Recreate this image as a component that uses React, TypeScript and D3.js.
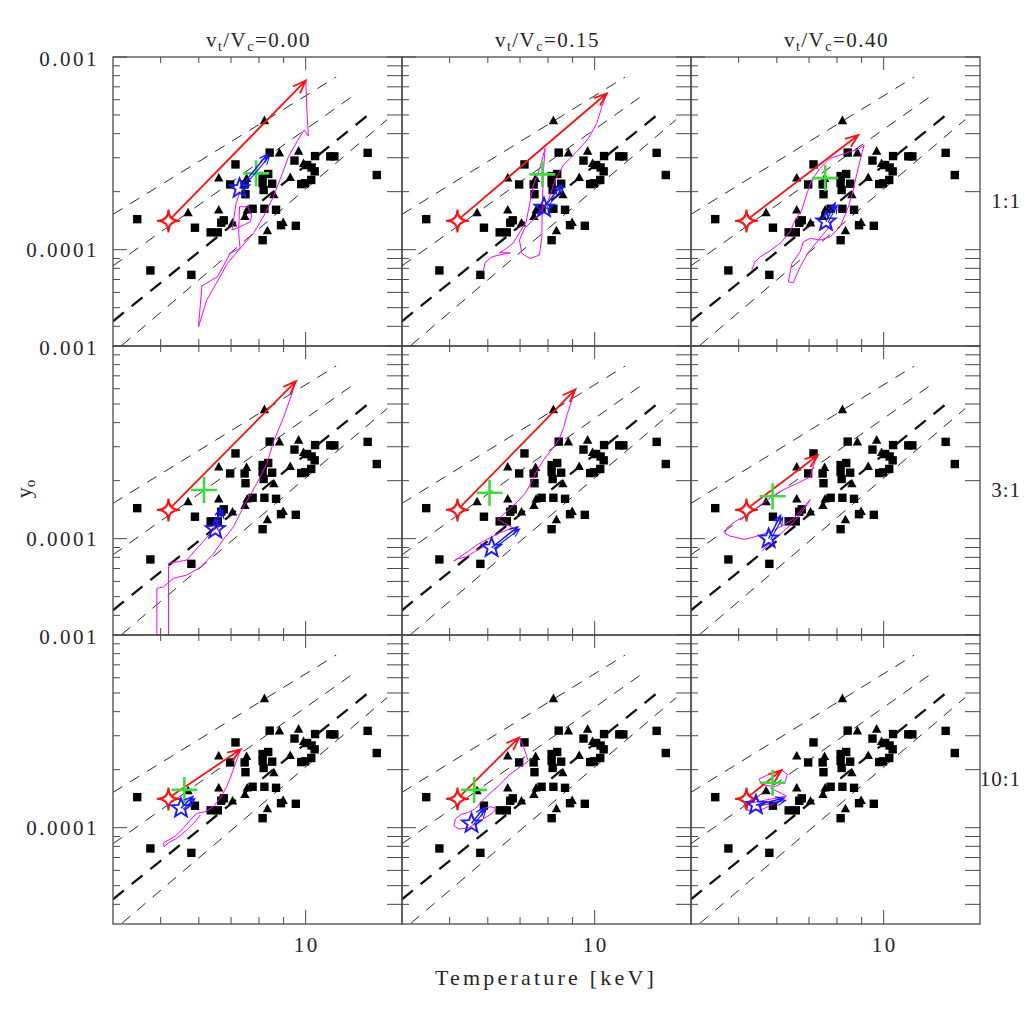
import React from "react";
import * as d3 from "d3";

const FONT = "'Liberation Serif', 'Times New Roman', serif";
const INK = "#262626";
const AXIS = "#4a4a4a";

// ---- axes ----
const T_DOMAIN: [number, number] = [3.981, 15.85];
const Y_DOMAIN: [number, number] = [3.162e-5, 1.0e-3];
const columnRatios = ["0.00", "0.15", "0.40"];
const rowMassRatios = ["1:1", "3:1", "10:1"];
const xMinorTicks = [4, 5, 6, 7, 8, 9];
const xMajorTicks = [10];
const xTickLabels = ["10"];
const yMinorTicks = [4e-5, 5e-5, 6e-5, 7e-5, 8e-5, 9e-5, 2e-4, 3e-4, 4e-4, 5e-4, 6e-4, 7e-4, 8e-4, 9e-4];
const yMajorTicks = [1e-4, 1e-3];
const yTickLabels = ["0.0001", "0.001"];

// ---- observed clusters (T keV, y in units of 1e-4) ----
const squareT = [4.47, 4.76, 5.79, 5.89, 6.35, 6.57, 6.68, 6.76, 6.97, 7.15, 7.47, 7.5, 7.76, 8.14, 8.36, 8.14, 8.52, 8.18, 8.21, 8.68, 8.14, 8.89, 9.54, 8.42, 9.48, 10.46, 11.25, 11.47, 13.45, 14.05, 10.07, 10.29, 10.44, 10.27, 9.97, 9.79];
const squareY = [1.44, 0.78, 0.74, 1.3, 1.23, 1.23, 1.38, 1.42, 2.18, 2.77, 2.18, 1.94, 1.63, 2.41, 2.47, 2.22, 2.2, 2.04, 1.63, 1.61, 1.12, 1.34, 1.33, 3.19, 2.9, 3.06, 3.05, 3.05, 3.18, 2.44, 2.75, 2.67, 2.55, 2.3, 2.21, 2.19];
const triangleT = [5.7, 6.6, 6.6, 7.05, 7.48, 7.56, 7.54, 8.21, 8.82, 9.67, 9.29, 8.59, 8.33, 8.98, 9.9];
const triangleY = [1.556, 2.355, 1.606, 1.375, 1.486, 1.606, 2.341, 4.68, 3.18, 3.25, 2.37, 1.93, 1.254, 1.384, 2.8];

// ---- scaling relations (dashed) ----
const relationT = [[3.981, 11.57], [3.981, 12.47], [3.981, 13.45], [4.156, 14.77]];
const relationY = [[1.525, 7.873], [0.825, 6.221], [0.425, 4.981], [0.319, 4.736]];
const relationThick = [false, false, true, false];

// ---- simulation overlays (per panel, row-major) ----
const initialState: [number, number] = [5.19, 1.41];
const redTip: [number, number][] = [[10.0, 7.55], [10.6, 6.48], [8.86, 3.94], [9.55, 6.58], [9.12, 5.96], [7.3, 2.71], [7.33, 2.55], [6.97, 2.94], [6.14, 1.99]];
const greenCross: [number, number][] = [[7.89, 2.49], [7.79, 2.46], [7.56, 2.35], [6.15, 1.79], [6.05, 1.73], [5.88, 1.66], [5.6, 1.57], [5.62, 1.57], [5.88, 1.71]];
const blueStar: [number, number][] = [[7.29, 2.08], [7.85, 1.65], [7.59, 1.4], [6.49, 1.12], [6.11, 0.897], [5.77, 1.0], [5.51, 1.26], [5.55, 1.05], [5.43, 1.31]];
const blueTip: [number, number][] = [[8.33, 3.13], [8.52, 2.16], [7.93, 1.74], [6.66, 1.44], [6.92, 1.15], [6.11, 1.32], [5.83, 1.45], [5.89, 1.27], [6.2, 1.42]];

const track1: [number, number][] = [[7.31, 2.0], [7.17, 1.739], [7.1, 1.481], [7.03, 1.264], [7.31, 1.315], [7.67, 1.395], [7.73, 1.512], [7.57, 1.67], [7.29, 1.67], [7.26, 1.215], [7.31, 1.015], [6.97, 0.956], [6.56, 0.723], [6.09, 0.649], [5.99, 0.397], [6.23, 0.547], [6.64, 0.723], [6.88, 0.849], [7.31, 1.015], [7.79, 1.215], [8.24, 1.543], [8.57, 1.882], [8.92, 2.44], [9.21, 3.036], [9.59, 3.632], [9.93, 4.178], [10.13, 3.888], [10.06, 5.306], [10.01, 7.532]];
const track2: [number, number][] = [[5.87, 0.768], [5.92, 0.855], [6.12, 0.918], [6.42, 0.945], [6.68, 0.963], [6.34, 0.963], [6.52, 1.003], [6.78, 1.085], [7.0, 1.238], [7.21, 1.395], [7.32, 1.704], [7.46, 2.164], [7.71, 2.694], [7.89, 3.357], [7.83, 2.59], [7.78, 1.605], [7.77, 1.166], [7.68, 0.937], [7.34, 0.901], [7.06, 0.956], [6.98, 1.121], [7.15, 1.29], [7.58, 1.481], [8.02, 1.809], [8.28, 2.298], [8.61, 2.749], [9.18, 3.222], [9.71, 3.783], [10.1, 4.526], [10.35, 5.52], [10.6, 6.479]];
const track3: [number, number][] = [[5.32, 0.783], [5.41, 0.865], [5.54, 0.918], [5.81, 0.986], [6.14, 1.098], [6.39, 1.238], [6.55, 1.424], [6.76, 1.605], [6.95, 1.997], [7.09, 2.298], [7.38, 2.643], [7.74, 2.978], [8.39, 3.185], [8.86, 3.316], [9.11, 3.492], [9.01, 3.162], [8.8, 2.49], [8.63, 1.997], [8.45, 1.67], [8.12, 1.315], [7.74, 1.166], [7.38, 1.121], [7.04, 1.144], [6.81, 1.098], [6.71, 0.975], [6.45, 0.849], [6.34, 0.681], [6.49, 0.673], [6.71, 0.815], [6.95, 0.956], [7.32, 1.121], [7.62, 1.264], [7.86, 1.424]];
const track4: [number, number][] = [[6.59, 1.249], [6.43, 1.108], [6.12, 0.963], [5.66, 0.774], [5.19, 0.744], [5.19, 0.264], [4.91, 0.264], [4.91, 0.552], [5.07, 0.562], [5.31, 0.622], [5.66, 0.647], [6.04, 0.709], [6.43, 0.832], [6.73, 0.983], [7.08, 1.152], [7.43, 1.464], [7.92, 1.937], [8.31, 2.461], [8.6, 3.25], [9.0, 4.263], [9.29, 5.35], [9.55, 6.581]];
const track5: [number, number][] = [[9.12, 5.959], [8.93, 5.076], [8.77, 4.419], [8.62, 3.765], [8.43, 3.277], [8.2, 2.964], [7.85, 2.58], [7.58, 2.244], [7.38, 1.95], [7.19, 1.731], [6.88, 1.535], [6.58, 1.39], [6.3, 1.259], [6.76, 1.139], [6.35, 1.072], [5.97, 0.991], [5.72, 0.934], [5.47, 0.862], [5.28, 0.812], [5.1, 0.765], [5.19, 0.786], [5.42, 0.805], [5.66, 0.862], [5.92, 0.915]];
const track6: [number, number][] = [[7.26, 2.63], [7.1, 2.29], [7.05, 2.095], [6.65, 1.95], [6.25, 1.816], [5.88, 1.664], [5.53, 1.488], [5.24, 1.337], [4.93, 1.234], [4.73, 1.139], [4.68, 1.065], [4.8, 1.031], [5.15, 0.991], [5.53, 1.04], [5.93, 1.108], [6.48, 1.259], [7.05, 1.6], [6.83, 1.419], [6.48, 1.209], [6.14, 1.072], [5.83, 0.952], [5.58, 0.862]];
const track7: [number, number][] = [[7.31, 2.508], [7.17, 2.198], [7.03, 1.914], [6.86, 1.631], [6.64, 1.419], [6.43, 1.284], [6.18, 1.209], [5.94, 1.186], [5.76, 1.098], [5.57, 0.991], [5.36, 0.904], [5.19, 0.862], [5.07, 0.835], [5.08, 0.796], [5.19, 0.835], [5.4, 0.88], [5.66, 0.971], [5.89, 1.072], [6.04, 1.162]];
const track8: [number, number][] = [[6.97, 2.943], [7.1, 2.684], [7.28, 2.217], [6.94, 2.031], [6.64, 1.875], [6.32, 1.65], [6.06, 1.506], [5.82, 1.363], [5.66, 1.259], [5.47, 1.2], [5.28, 1.172], [5.14, 1.108], [5.1, 1.022], [5.23, 0.983], [5.47, 0.998], [5.72, 1.072], [5.92, 1.125], [6.13, 1.186], [6.24, 1.259], [6.08, 1.284], [5.82, 1.249]];
const track9: [number, number][] = [[6.14, 1.99], [6.31, 1.891], [6.25, 1.731], [5.93, 1.631], [5.58, 1.678], [5.51, 1.787], [5.78, 1.891], [6.09, 1.967], [5.83, 1.6], [6.14, 1.506], [6.28, 1.459], [5.83, 1.407], [5.38, 1.353], [5.11, 1.299], [5.22, 1.229], [5.58, 1.238], [5.93, 1.337], [6.25, 1.441]];
const tracks = [track1, track2, track3, track4, track5, track6, track7, track8, track9];

const Y_UNIT = 1e-4;
const P = 289;
const ORIGIN_X = 113;
const ORIGIN_Y = 57;

function arrowPath(sx: number, sy: number, ex: number, ey: number, len: number, ang: number) {
  const th = Math.atan2(ey - sy, ex - sx);
  const h1x = ex - len * Math.cos(th - ang), h1y = ey - len * Math.sin(th - ang);
  const h2x = ex - len * Math.cos(th + ang), h2y = ey - len * Math.sin(th + ang);
  return `M${sx},${sy}L${ex},${ey}M${h1x},${h1y}L${ex},${ey}L${h2x},${h2y}`;
}

function starPath(cx: number, cy: number, n: number, R: number, r: number) {
  const pts: string[] = [];
  for (let k = 0; k < 2 * n; k++) {
    const a = -Math.PI / 2 + (k * Math.PI) / n;
    const rad = k % 2 === 0 ? R : r;
    pts.push(`${cx + rad * Math.cos(a)},${cy + rad * Math.sin(a)}`);
  }
  return "M" + pts.join("L") + "Z";
}

// concave 4-point star (curved sides)
function sparklePath(cx: number, cy: number, R: number, c: number) {
  return (
    `M${cx},${cy - R}` +
    `Q${cx + c},${cy - c} ${cx + R},${cy}` +
    `Q${cx + c},${cy + c} ${cx},${cy + R}` +
    `Q${cx - c},${cy + c} ${cx - R},${cy}` +
    `Q${cx - c},${cy - c} ${cx},${cy - R}Z`
  );
}

function Panel({ row, col }: { row: number; col: number }) {
  const i = row * 3 + col;
  const x0 = ORIGIN_X + col * P;
  const y0 = ORIGIN_Y + row * P;
  const x = d3.scaleLog().domain(T_DOMAIN).range([x0, x0 + P]);
  const y = d3.scaleLog().domain(Y_DOMAIN).range([y0 + P, y0]);
  const line = d3
    .line<[number, number]>()
    .x((d) => x(d[0]))
    .y((d) => y(d[1] * Y_UNIT));
  const clipId = `clip-${i}`;

  const ticks: JSX.Element[] = [];
  const addX = (t: number, lenB: number, lenT: number, key: string) => {
    const xx = x(t);
    if (xx < x0 + 1.5 || xx > x0 + P - 0.5) return;
    ticks.push(<line key={key + "b"} x1={xx} x2={xx} y1={y0 + P} y2={y0 + P - lenB} />);
    ticks.push(<line key={key + "t"} x1={xx} x2={xx} y1={y0} y2={y0 + lenT} />);
  };
  xMinorTicks.forEach((t) => addX(t, 7, 6, "xm" + t));
  xMajorTicks.forEach((t) => addX(t, 14, 13, "xM" + t));
  const addY = (v: number, lenL: number, lenR: number, key: string) => {
    const yy = y(v);
    ticks.push(<line key={key + "l"} x1={x0} x2={x0 + lenL} y1={yy} y2={yy} />);
    ticks.push(<line key={key + "r"} x1={x0 + P} x2={x0 + P - lenR} y1={yy} y2={yy} />);
  };
  yMinorTicks.forEach((v) => addY(v, 7, 15, "ym" + v));
  yMajorTicks.forEach((v) => addY(v, 14, 15, "yM" + v));

  const rs = initialState;
  const sx = x(rs[0]), sy = y(rs[1] * Y_UNIT);
  const [rtT, rtY] = redTip[i];
  const [gT, gY] = greenCross[i];
  const [bT, bY] = blueStar[i];
  const [btT, btY] = blueTip[i];
  const gx = x(gT), gy = y(gY * Y_UNIT);
  const bx = x(bT), by = y(bY * Y_UNIT);
  const btx = x(btT), bty = y(btY * Y_UNIT);

  return (
    <g>
      <defs>
        <clipPath id={clipId}>
          <rect x={x0} y={y0} width={P} height={P} />
        </clipPath>
      </defs>
      <g clipPath={`url(#${clipId})`}>
        {relationT.map((tt, k) => (
          <line
            key={"rel" + k}
            x1={x(tt[0])}
            y1={y(relationY[k][0] * Y_UNIT)}
            x2={x(tt[1])}
            y2={y(relationY[k][1] * Y_UNIT)}
            stroke="#111"
            strokeWidth={relationThick[k] ? 2.3 : 0.9}
            strokeDasharray={relationThick[k] ? "14,10" : "11,9"}
          />
        ))}
        {squareT.map((t, k) => (
          <rect key={"s" + k} x={x(t) - 4.2} y={y(squareY[k] * Y_UNIT) - 4.2} width={8.4} height={8.4} fill="#000" />
        ))}
        {triangleT.map((t, k) => {
          const cx = x(t), cy = y(triangleY[k] * Y_UNIT);
          return <path key={"t" + k} d={`M${cx},${cy - 5}L${cx + 4.7},${cy + 3.6}L${cx - 4.7},${cy + 3.6}Z`} fill="#000" />;
        })}
        <path d={line(tracks[i]) || ""} fill="none" stroke="#ff00ff" strokeWidth={1} strokeLinejoin="round" />
        <path d={arrowPath(sx + 3, sy - 3, x(rtT), y(rtY * Y_UNIT), 14, 0.36)} fill="none" stroke="#ff1010" strokeWidth={1.8} />
        <path d={sparklePath(sx, sy, 11.5, 0.3)} fill="none" stroke="#ff1010" strokeWidth={1.8} />
        <path d={sparklePath(sx, sy, 8.5, 0.2)} fill="none" stroke="#ff1010" strokeWidth={0.8} />
        <path d={`M${gx - 13},${gy}L${gx + 13},${gy}M${gx},${gy - 13}L${gx},${gy + 13}`} stroke="#3ddc3d" strokeWidth={2.6} />
        <path d={arrowPath(bx, by, btx, bty, 9, 0.4)} fill="none" stroke="#1a1aff" strokeWidth={1.5} />
        <path d={arrowPath(bx + 2, by + 1, btx + 2, bty + 2, 9, 0.4)} fill="none" stroke="#1a1aff" strokeWidth={1.1} />
        <path d={starPath(bx, by, 5, 10, 4.2)} fill="none" stroke="#1a1aff" strokeWidth={1.9} />
      </g>
      <g stroke={AXIS} strokeWidth={1}>{ticks}</g>
      <rect x={x0} y={y0} width={P} height={P} fill="none" stroke={AXIS} strokeWidth={1.3} />
    </g>
  );
}

export default function App() {
  const x = d3.scaleLog().domain(T_DOMAIN).range([0, P]);
  const y = d3.scaleLog().domain(Y_DOMAIN).range([P, 0]);
  const panels: JSX.Element[] = [];
  for (let r = 0; r < 3; r++) for (let c = 0; c < 3; c++) panels.push(<Panel key={`${r}-${c}`} row={r} col={c} />);

  return (
    <svg width={1035} height={1035} style={{ position: "absolute", left: 0, top: 0, background: "#fff" }} fontFamily={FONT}>
      <rect x={0} y={0} width={1035} height={1035} fill="#fff" />
      {panels}
      {columnRatios.map((v, c) => (
        <text key={"ct" + c} x={ORIGIN_X + c * P + P / 2 + 1} y={47} textAnchor="middle" fontSize={21} fill={INK} letterSpacing={1.5}>
          v<tspan dy={4} fontSize={14}>t</tspan>
          <tspan dy={-4}>/V</tspan>
          <tspan dy={4} fontSize={14}>c</tspan>
          <tspan dy={-4}>={v}</tspan>
        </text>
      ))}
      {rowMassRatios.map((lab, r) => (
        <text key={"rl" + r} x={1021} y={ORIGIN_Y + r * P + P / 2 + 6} textAnchor="end" fontSize={21} fill={INK} letterSpacing={1}>
          {lab}
        </text>
      ))}
      {[0, 1, 2].map((r) =>
        yMajorTicks.map((v, k) => (
          <text key={"yl" + r + k} x={99} y={ORIGIN_Y + r * P + y(v) + (v === 1e-3 ? 9 : 7.5)} textAnchor="end" fontSize={21} fill={INK} letterSpacing={2.5}>
            {yTickLabels[k]}
          </text>
        ))
      )}
      {[0, 1, 2].map((c) =>
        xMajorTicks.map((t, k) => (
          <text key={"xl" + c + k} x={ORIGIN_X + c * P + x(t) + 1} y={952} textAnchor="middle" fontSize={21} fill={INK} letterSpacing={2.5}>
            {xTickLabels[k]}
          </text>
        ))
      )}
      <text x={546} y={985} textAnchor="middle" fontSize={22} fill={INK} letterSpacing={3.2}>
        Temperature [keV]
      </text>
      <text transform="translate(31,489) rotate(-90)" textAnchor="middle" fontSize={22} fill={INK}>
        y<tspan dy={4} fontSize={15}>o</tspan>
      </text>
    </svg>
  );
}
